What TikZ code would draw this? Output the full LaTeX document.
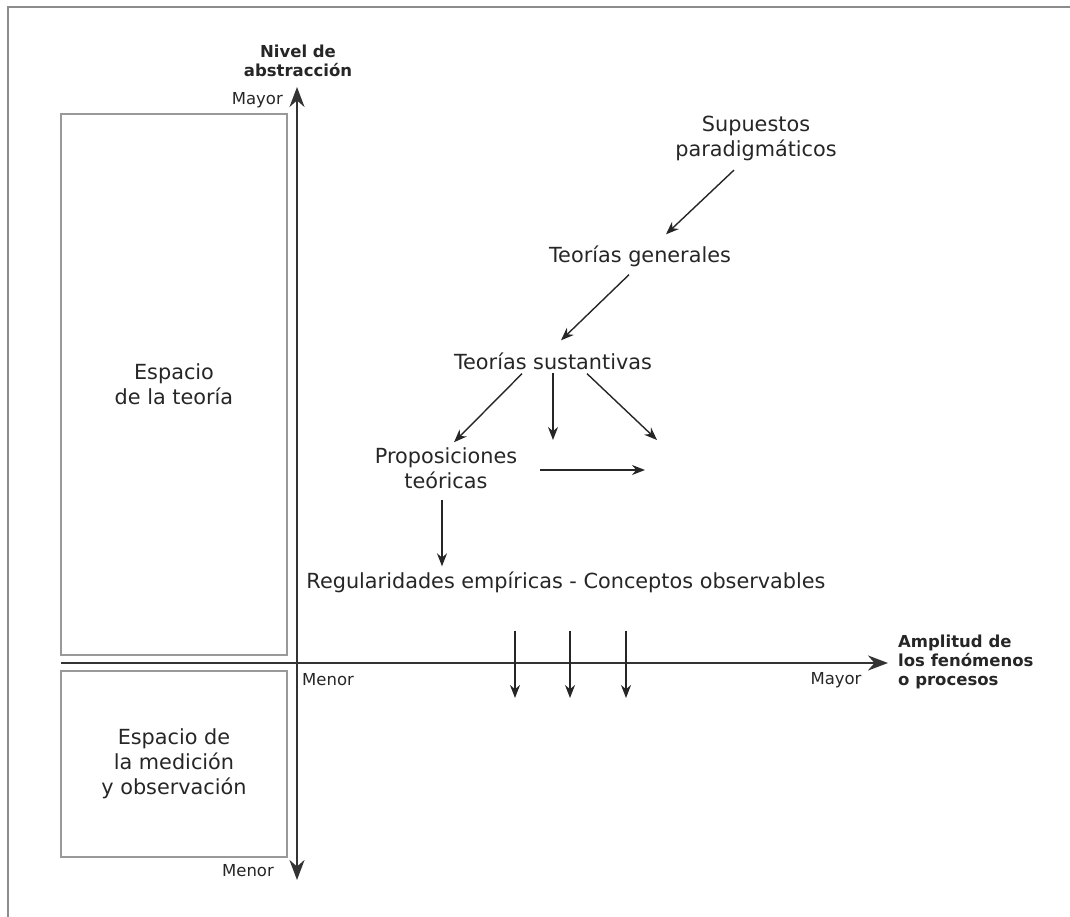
\documentclass[tikz,border=0pt]{standalone}
\usepackage{fontspec}
\setmainfont{DejaVu Sans}
\usetikzlibrary{arrows.meta}

\begin{document}
\begin{tikzpicture}[x=1pt, y=-1pt,
        texto/.style={font=\fontsize{20.8}{25}\selectfont, text=black!85, align=center, inner sep=0pt},
        etiqueta/.style={font=\fontsize{16.5}{19}\selectfont, text=black!85, inner sep=0pt},
        negrita/.style={etiqueta, font=\fontsize{16.5}{19}\selectfont\bfseries, align=center},
        caja/.style={draw=black!40, line width=1.8pt, texto, minimum width=226pt},
        flecha/.style={draw=black!85, line width=1.4pt, -{Stealth[length=13pt, width=10pt]}},
        eje/.style={draw=black!80, line width=2.6pt}]
        \useasboundingbox (0, 0) rectangle (1070, 917);
        \draw[black!45, line width=2pt] (8, 917) -- (8, 7) -- (1070, 7);

        % ejes
        \coordinate (origen) at (297, 663);
        \coordinate (arriba) at (297, 87);
        \coordinate (abajo) at (297, 880);
        \coordinate (izq) at (61, 663);
        \coordinate (der) at (888, 663);
        \draw[eje, {Stealth[length=20pt, width=15pt]}-{Stealth[length=20pt, width=15pt]}] (abajo) -- (arriba);
        \draw[eje, -{Stealth[length=20pt, width=15pt]}] (izq) -- (der);

        \node[negrita] (nivel) at (298, 61) {Nivel de\\abstracción};
        \node[etiqueta, anchor=east] (mayorY) at (283, 100) {Mayor};
        \node[etiqueta] (menorY) at (248, 871) {Menor};
        \node[etiqueta, anchor=west] (menorX) at (302, 680) {Menor};
        \node[etiqueta] (mayorX) at (836, 680) {Mayor};
        \node[negrita, anchor=west, align=left] (amplitud) at (898, 662) {Amplitud de\\los fenómenos\\o procesos};

        % espacios
        \node[caja, minimum height=541pt] (teoria) at (174, 384.5) {Espacio\\de la teoría};
        \node[caja, minimum height=186pt] (medicion) at (174, 764) {Espacio de\\la medición\\y observación};

        % niveles
        \node[texto] (sup) at (756, 138.5) {Supuestos\\paradigmáticos};
        \node[texto] (gen) at (640, 256) {Teorías generales};
        \node[texto] (sus) at (553, 361) {Teorías sustantivas};
        \node[texto] (prop) at (446, 468) {Proposiciones\\teóricas};
        \node[texto] (reg) at (566, 582) {Regularidades empíricas - Conceptos observables};

        \coordinate (medio) at (553, 440);
        \coordinate (lado) at (657, 440);
        \coordinate (frente) at (645, 470);

        \draw[flecha] ([xshift=-22pt, yshift=-9pt]sup.south) -- ([xshift=26pt, yshift=11pt]gen.north);
        \draw[flecha] ([xshift=-11pt, yshift=-8pt]gen.south) -- ([xshift=8pt, yshift=12pt]sus.north);
        \draw[flecha] ([xshift=-31pt, yshift=-4pt]sus.south) -- ([xshift=8pt, yshift=5pt]prop.north);
        \draw[flecha] ([yshift=-3pt]sus.south) -- (medio);
        \draw[flecha] ([xshift=34pt, yshift=-4pt]sus.south) -- (lado);
        \draw[flecha] ([xshift=23pt, yshift=-2pt]prop.east) -- (frente);
        \draw[flecha] ([xshift=-4pt, yshift=-11pt]prop.south) -- ([xshift=-4pt, yshift=5pt]prop.south |- reg.north);
        \foreach \x/\n in {515/a, 570/b, 626/c} {
            \coordinate (baja\n) at (\x, 698);
            \draw[flecha] (reg.south -| baja\n) ++(0, 38) -- (baja\n);
        }
    \end{tikzpicture}
\end{document}
